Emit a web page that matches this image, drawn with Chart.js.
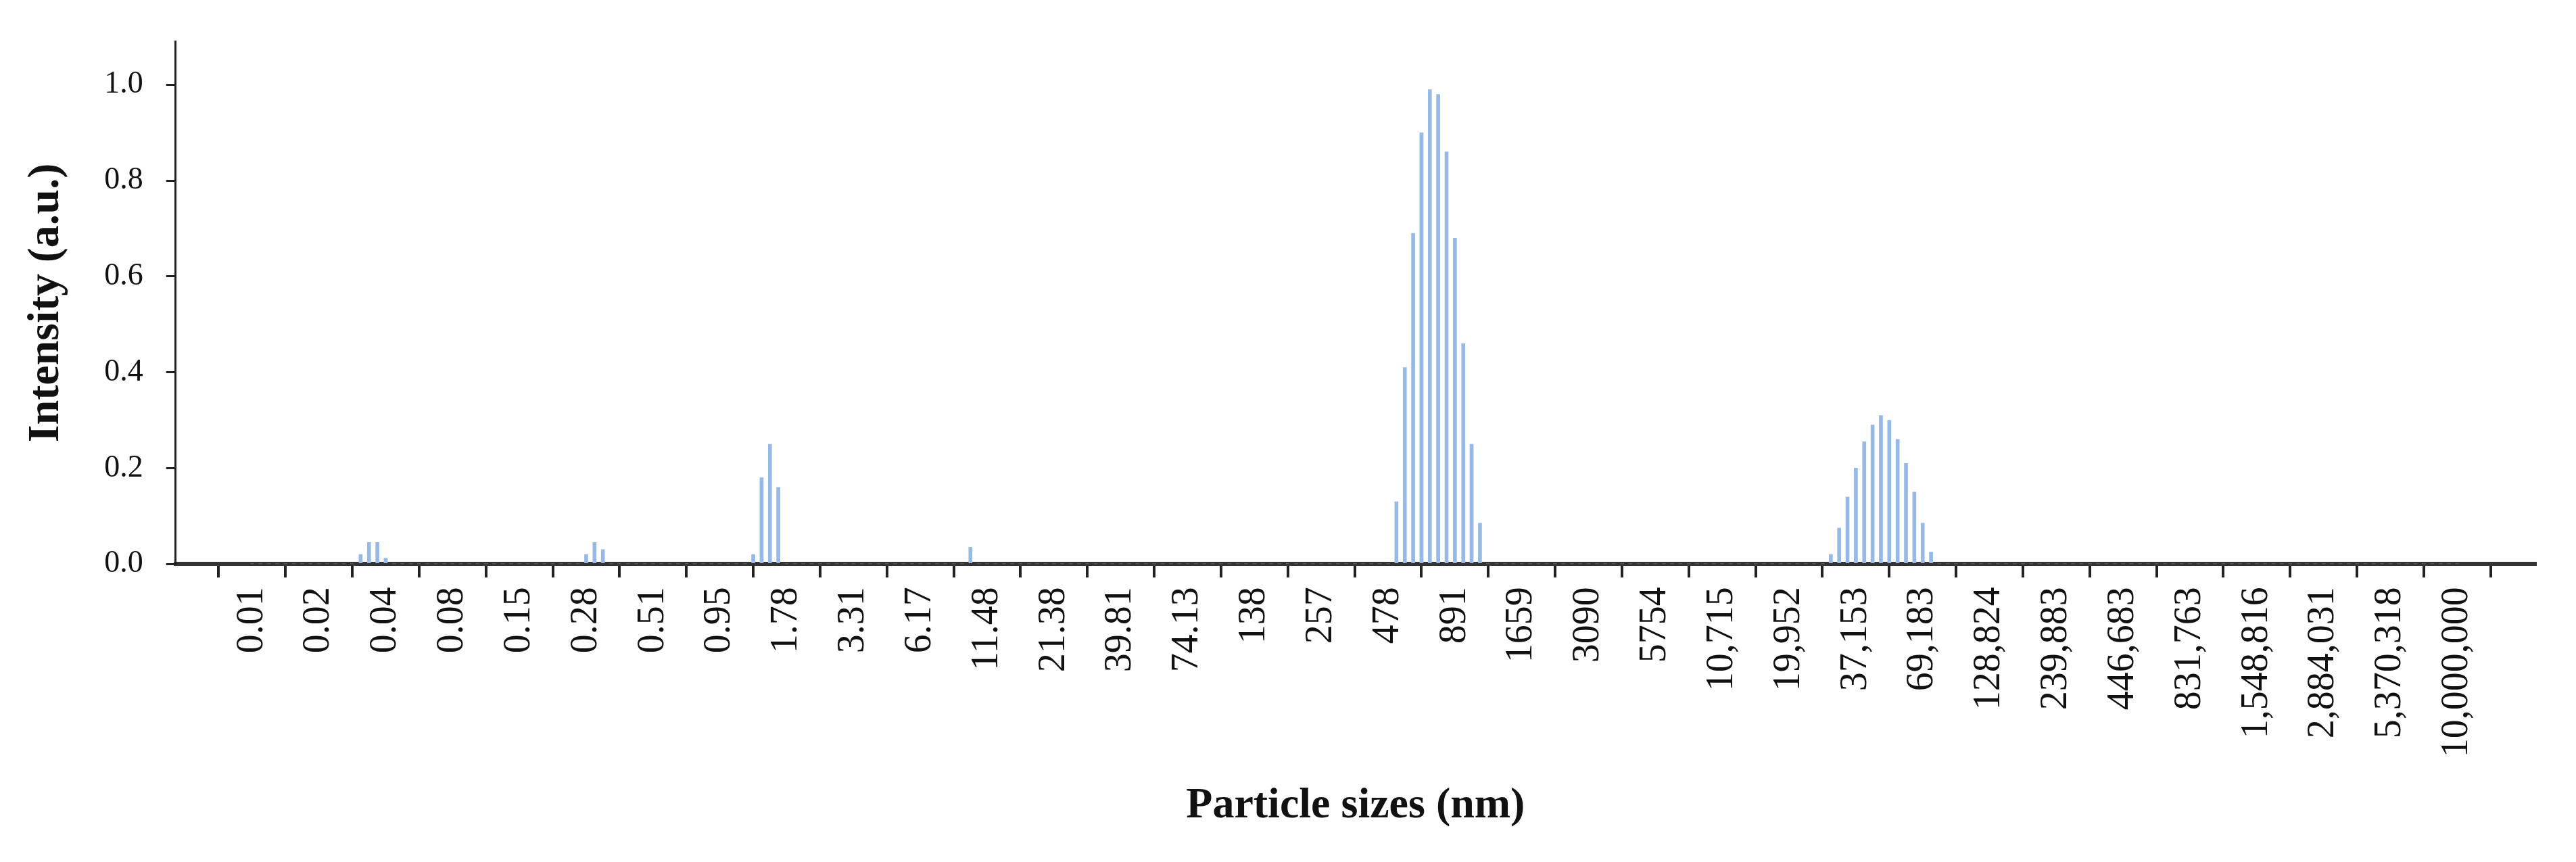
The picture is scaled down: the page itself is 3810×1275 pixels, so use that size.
<!DOCTYPE html>
<html>
<head>
<meta charset="utf-8">
<script src="https://cdn.jsdelivr.net/npm/chart.js@4"></script>
<style>
  body { margin: 0; background: #fff; overflow: hidden; }
</style>
</head>
<body>
<canvas id="canva" width="3810" height="1275"></canvas>
<script>
// tick labels, one every 8 bins
const sizeLabels = ["0.01", "0.02", "0.04", "0.08", "0.15", "0.28", "0.51", "0.95", "1.78", "3.31",
    "6.17", "11.48", "21.38", "39.81", "74.13", "138", "257", "478", "891", "1659", "3090", "5754",
    "10,715", "19,952", "37,153", "69,183", "128,824", "239,883", "446,683", "831,763",
    "1,548,816", "2,884,031", "5,370,318", "10,000,000"];
const binsPerLabel = 8;
const nBins = (sizeLabels.length - 1) * binsPerLabel + 1;

// non-zero bins: first bin index + intensities
const peakStarts = [13, 40, 60, 86, 137, 189];
const peakValues = [
    [0.02, 0.045, 0.045, 0.012],
    [0.02, 0.045, 0.03],
    [0.02, 0.18, 0.25, 0.16],
    [0.035],
    [0.13, 0.41, 0.69, 0.90, 0.99, 0.98, 0.86, 0.68, 0.46, 0.25, 0.085],
    [0.02, 0.075, 0.14, 0.20, 0.255, 0.29, 0.31, 0.30, 0.26, 0.21, 0.15, 0.085, 0.025]
];

const intensity = [];
for (let i = 0; i < nBins; i++) intensity.push({ x: i, y: 0 });
peakStarts.forEach((s, k) => {
    peakValues[k].forEach((v, j) => { intensity[s + j].y = v; });
});

const serif = "'Liberation Serif', 'Times New Roman', serif";
const ctx = document.getElementById("canva").getContext("2d");
new Chart(ctx, {
    type: 'bar',
    data: {
        datasets: [{
            data: intensity,
            backgroundColor: 'rgb(150, 185, 230)',
            barThickness: 5,
            borderWidth: 0
        }]
    },
    options: {
        responsive: false,
        animation: false,
        devicePixelRatio: 1,
        layout: { padding: { top: 20, right: 60, bottom: 40, left: 25 } },
        plugins: { legend: { display: false }, tooltip: { enabled: false } },
        scales: {
            x: {
                type: 'linear',
                min: -5,
                max: 269.2,
                afterBuildTicks: axis => {
                    axis.ticks = sizeLabels.map((l, i) => ({ value: i * binsPerLabel }));
                },
                ticks: {
                    minRotation: 90,
                    maxRotation: 90,
                    autoSkip: false,
                    padding: 14,
                    color: '#111',
                    font: { family: serif, size: 56 },
                    callback: v => sizeLabels[Math.round(v / binsPerLabel)]
                },
                grid: { drawOnChartArea: false, color: '#222', lineWidth: 4, tickLength: 20 },
                border: { color: '#333', width: 6 },
                title: {
                    display: true,
                    text: 'Particle sizes (nm)',
                    color: '#111',
                    font: { family: serif, size: 64, weight: 'bold' },
                    padding: { top: 20 }
                }
            },
            y: {
                min: 0,
                max: 1.09,
                afterBuildTicks: axis => {
                    axis.ticks = [0, 0.2, 0.4, 0.6, 0.8, 1.0].map(v => ({ value: v }));
                },
                ticks: {
                    padding: 34,
                    color: '#111',
                    font: { family: serif, size: 46 },
                    callback: v => v.toFixed(1)
                },
                grid: { drawOnChartArea: false, color: '#222', lineWidth: 3, tickLength: 14 },
                border: { color: '#222', width: 3 },
                title: {
                    display: true,
                    text: 'Intensity (a.u.)',
                    color: '#111',
                    font: { family: serif, size: 66, weight: 'bold' },
                    padding: { bottom: 12 }
                }
            }
        }
    }
});
</script>
</body>
</html>
